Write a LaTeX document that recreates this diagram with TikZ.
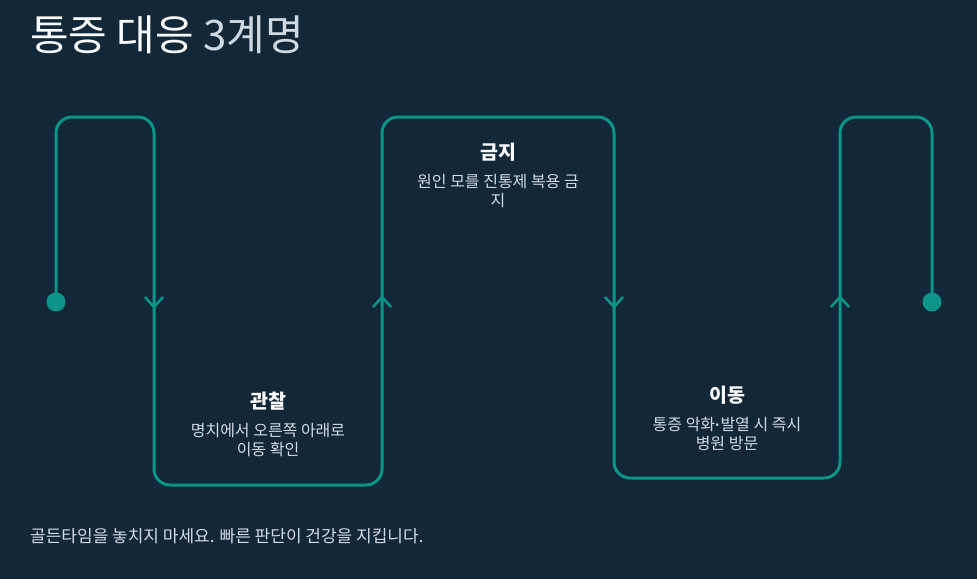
\documentclass[tikz,border=0pt]{standalone}
\usepackage{fontspec}
\setmainfont{Noto Sans CJK KR}
\newfontfamily\dotfont{Liberation Sans}
\definecolor{bg}{HTML}{122838}
\definecolor{teal}{HTML}{0D9488}
\definecolor{head}{HTML}{F8FAFC}
\definecolor{body}{HTML}{D3DBE4}
\definecolor{titlegray}{HTML}{CFD9E2}
\tikzset{
  flow/.style={draw=teal, line width=3pt, rounded corners=16pt},
  chev/.style={draw=teal, line width=2.5pt},
  dotnode/.style={circle, fill=teal, minimum size=19pt, inner sep=0pt},
  headtxt/.style={text=head, font=\fontsize{19.5}{22}\selectfont\bfseries, inner sep=0pt},
  bodytxt/.style={text=body, font=\fontsize{16}{19}\selectfont, align=center, inner sep=0pt},
}
\begin{document}
\begin{tikzpicture}[x=1pt,y=-1pt]
\fill[bg] (0,0) rectangle (977,579);
\useasboundingbox (0,0) rectangle (977,579);
% title
\node[anchor=base west, inner sep=0pt, font=\fontsize{42}{48}\selectfont] (title) at (30,50)
  {\textcolor{head}{통증 대응} \textcolor{titlegray}{3계명}};
% end dots
\node[dotnode] (d1) at (56,302) {};
\node[dotnode] (d2) at (932,302) {};
% main line
\draw[flow] (d1.center) -- (56,117) -- (154,117) -- (154,485) -- (382,485) -- (382,117)
  -- (614,117) -- (614,478) -- (840,478) -- (840,117) -- (932,117) -- (d2.center);
% chevrons
\coordinate (a1) at (154,302);
\coordinate (a2) at (382,302);
\coordinate (a3) at (614,302);
\coordinate (a4) at (840,302);
\draw[chev] ([shift={(-9,-5)}]a1) -- ([shift={(0,5)}]a1) -- ([shift={(9,-5)}]a1);
\draw[chev] ([shift={(-9,5)}]a2) -- ([shift={(0,-5)}]a2) -- ([shift={(9,5)}]a2);
\draw[chev] ([shift={(-9,-5)}]a3) -- ([shift={(0,5)}]a3) -- ([shift={(9,-5)}]a3);
\draw[chev] ([shift={(-9,5)}]a4) -- ([shift={(0,-5)}]a4) -- ([shift={(9,5)}]a4);
% texts
\node[headtxt] (h2) at (498,152) {금지};
\node[bodytxt] (b2) at (498,191) {원인 모를 진통제 복용 금\\지};
\node[headtxt] (h1) at (268,401) {관찰};
\node[bodytxt] (b1) at (268,440) {명치에서 오른쪽 아래로\\이동 확인};
\node[headtxt] (h3) at (727,395) {이동};
\node[bodytxt] (b3) at (727,434) {통증 악화{\dotfont\bfseries ·}발열 시 즉시\\병원 방문};
% footer
\node[anchor=base west, inner sep=0pt, text=body, font=\fontsize{17}{20}\selectfont] (foot) at (30,542)
  {골든타임을 놓치지 마세요. 빠른 판단이 건강을 지킵니다.};
\end{tikzpicture}
\end{document}
